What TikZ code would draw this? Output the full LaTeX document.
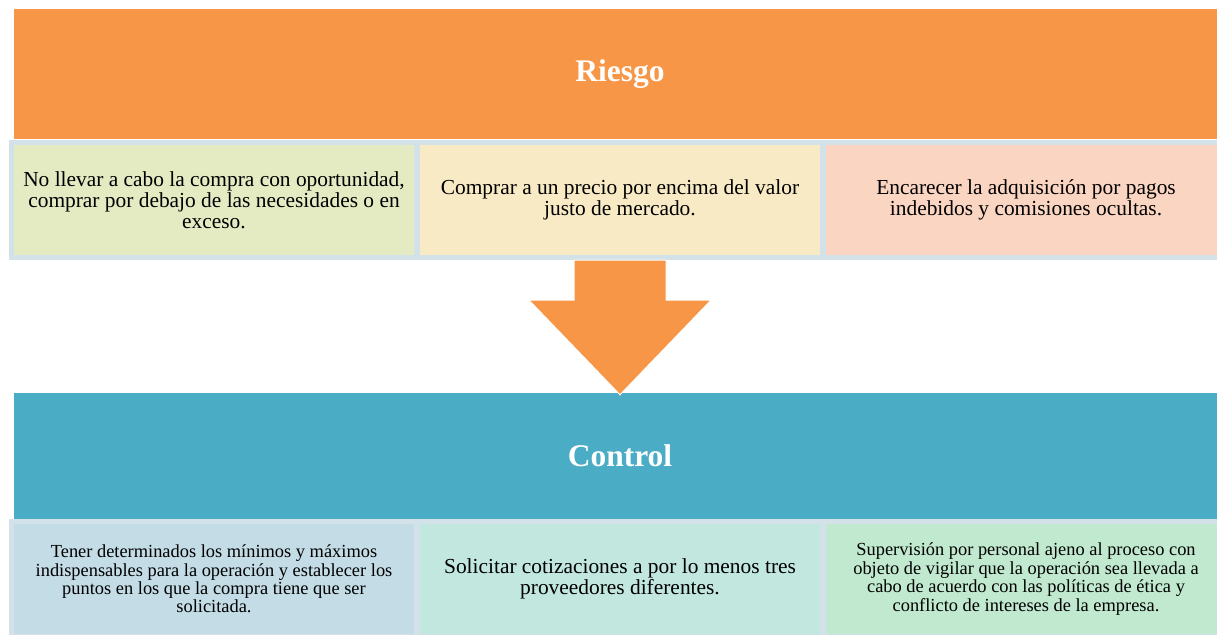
\documentclass[tikz,border=0pt]{standalone}
\usepackage{fontspec}
\setmainfont{Liberation Serif}
\definecolor{riskc}{HTML}{F79646}
\definecolor{ctrlc}{HTML}{4BACC6}
\definecolor{stripc}{HTML}{D3E2E9}
\definecolor{riskone}{HTML}{E4EBC3}
\definecolor{risktwo}{HTML}{F8EAC4}
\definecolor{riskthree}{HTML}{FAD5C2}
\definecolor{ctrlone}{HTML}{C3DCE6}
\definecolor{ctrltwo}{HTML}{C1E7DF}
\definecolor{ctrlthree}{HTML}{C1E9CF}
\begin{document}
\begin{tikzpicture}[x=1pt,y=1pt,node distance=126pt,
head/.style={
rectangle,
fill=#1,
text=white,
font=\fontsize{31.5}{36}\selectfont\bfseries,
minimum width=1212pt,
minimum height=130pt,
inner sep=0pt
},
band/.style={
rectangle,
fill=stripc,
minimum width=1222pt,
minimum height=120pt,
inner sep=0pt
},
item/.style={
rectangle,
fill=#1,
minimum width=400pt,
minimum height=110pt,
align=center,
inner sep=0pt,
font=\fontsize{21.4}{20.8}\selectfont
},
small/.style={font=\fontsize{18.4}{18.4}\selectfont},
]
\useasboundingbox (0,0) rectangle (1217,-634);
\clip (0,0) rectangle (1217,-634);

\node (riesgo) [head=riskc] at (620,-74) {Riesgo};
\node (rband) [band,below of=riesgo] {};
\node (r2) [item=risktwo,at=(rband.center)] {Comprar a un precio por encima del valor\\justo de mercado.};
\node (r1) [item=riskone,left of=r2,node distance=406pt] {No llevar a cabo la compra con oportunidad,\\comprar por debajo de las necesidades o en\\exceso.};
\node (r3) [item=riskthree,right of=r2,node distance=406pt] {Encarecer la adquisición por pagos\\indebidos y comisiones ocultas.};

\node (control) [head=ctrlc,minimum height=126pt,below of=rband,node distance=256pt] {Control};
\node (cband) [band,below of=control,node distance=123pt] {};
\node (c2) [item=ctrltwo,at=(cband.center)] {Solicitar cotizaciones a por lo menos tres\\proveedores diferentes.};
\node (c1) [item=ctrlone,small,left of=c2,node distance=406pt] {Tener determinados los mínimos y máximos\\indispensables para la operación y establecer los\\puntos en los que la compra tiene que ser\\solicitada.};
\node (c3) [item=ctrlthree,small,right of=c2,node distance=406pt] {Supervisión por personal ajeno al proceso con\\objeto de vigilar que la operación sea llevada a\\cabo de acuerdo con las políticas de ética y\\conflicto de intereses de la empresa.};

% block arrow from riesgo to control
\filldraw[fill=riskc,draw=white,line width=1pt]
([xshift=-46pt]rband.south) -- ([xshift=-46pt,yshift=-40pt]rband.south)
-- ([xshift=-91pt,yshift=-40pt]rband.south) -- ([yshift=-2pt]control.north)
-- ([xshift=91pt,yshift=-40pt]rband.south) -- ([xshift=46pt,yshift=-40pt]rband.south)
-- ([xshift=46pt]rband.south) -- cycle;
\end{tikzpicture}
\end{document}
